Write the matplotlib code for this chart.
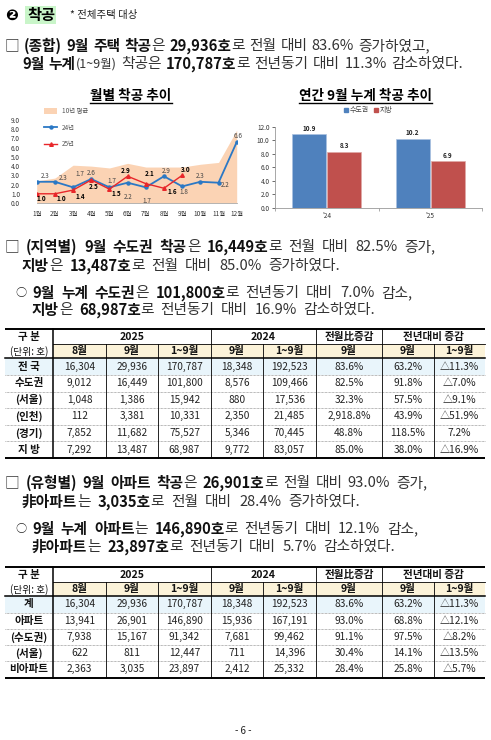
import matplotlib
matplotlib.use('Agg')
import matplotlib.pyplot as plt
from matplotlib.patches import Rectangle, Patch
from matplotlib.lines import Line2D

plt.rcParams['font.family'] = ['Noto Sans CJK KR', 'DejaVu Sans']

# ---------------- data ----------------
months = ['1월', '2월', '3월', '4월', '5월', '6월', '7월', '8월', '9월', '10월', '11월', '12월']
avg10 = [2.4, 2.7, 4.1, 4.0, 3.8, 4.3, 3.9, 3.9, 3.9, 4.2, 4.4, 7.9]
y24 = [2.3, 2.3, 1.7, 2.6, 1.7, 2.2, 1.7, 2.9, 1.8, 2.3, 2.2, 6.6]
y25 = [1.0, 1.0, 1.4, 2.5, 1.5, 2.9, 2.1, 1.6, 3.0]

years = ["'24", "'25"]
metro_cum = [10.9, 10.2]
local_cum = [8.3, 6.9]

hdr_row1 = ['구 분', '2025', '2024', '전월比증감', '전년대비 증감']
hdr_row2 = ['(단위: 호)', '8월', '9월', '1~9월', '9월', '1~9월', '9월', '9월', '1~9월']

t1_labels = ['전 국', '수도권', '(서울)', '(인천)', '(경기)', '지 방']
t1_aug25 = [16304, 9012, 1048, 112, 7852, 7292]
t1_sep25 = [29936, 16449, 1386, 3381, 11682, 13487]
t1_cum25 = [170787, 101800, 15942, 10331, 75527, 68987]
t1_sep24 = [18348, 8576, 880, 2350, 5346, 9772]
t1_cum24 = [192523, 109466, 17536, 21485, 70445, 83057]
t1_mom = [83.6, 82.5, 32.3, 2918.8, 48.8, 85.0]
t1_yoy_sep = [63.2, 91.8, 57.5, 43.9, 118.5, 38.0]
t1_yoy_cum = [-11.3, -7.0, -9.1, -51.9, 7.2, -16.9]

t2_labels = ['계', '아파트', '(수도권)', '(서울)', '비아파트']
t2_aug25 = [16304, 13941, 7938, 622, 2363]
t2_sep25 = [29936, 26901, 15167, 811, 3035]
t2_cum25 = [170787, 146890, 91342, 12447, 23897]
t2_sep24 = [18348, 15936, 7681, 711, 2412]
t2_cum24 = [192523, 167191, 99462, 14396, 25332]
t2_mom = [83.6, 93.0, 91.1, 30.4, 28.4]
t2_yoy_sep = [63.2, 68.8, 97.5, 14.1, 25.8]
t2_yoy_cum = [-11.3, -12.1, -8.2, -13.5, -5.7]

# ---------------- figure ----------------
W, H = 491, 740
fig = plt.figure(figsize=(W / 100, H / 100), dpi=100)
page = fig.add_axes([0, 0, 1, 1])
page.set_xlim(0, W)
page.set_ylim(H, 0)
page.axis('off')
R = fig.canvas.get_renderer()


def rich_line(x0, y, segs, x_end=None, size=10.6):
    pieces = []
    for text, kind in segs:
        parts = text.split(' ')
        for i, p in enumerate(parts):
            if i > 0:
                pieces.append(None)
            if p:
                if kind == 'b':
                    kw = dict(fontsize=size, color='#111111', fontweight='bold')
                elif kind == 's':
                    kw = dict(fontsize=size * 0.85, color='#333333')
                else:
                    kw = dict(fontsize=size, color='#333333')
                pieces.append(page.text(0, y, p, va='center', ha='left', **kw))
    widths = [t.get_window_extent(R).width if t is not None else None for t in pieces]
    sp = size * 0.3 * 1.389
    nsp = sum(1 for w in widths if w is None)
    nat = sum(w for w in widths if w is not None) + sp * nsp
    if x_end is not None and nsp:
        sp = max(sp * 0.5, sp + (x_end - x0 - nat) / nsp)
    x = x0
    for t, w in zip(pieces, widths):
        if t is None:
            x += sp
        else:
            t.set_x(x)
            x += w


# ---------------- heading ----------------
page.text(5, 15, '❷', fontsize=11, fontweight='bold', va='center', ha='left',
          family=['DejaVu Sans', 'Noto Sans CJK KR'])
page.add_patch(Rectangle((25, 6), 31, 18, fc='#c9f5c9', ec='none'))
page.text(27, 15, '착공', fontsize=11, fontweight='bold', va='center', ha='left')
page.text(70, 15, '* 전체주택 대상', fontsize=7.5, va='center', ha='left', color='#222222')

# ---------------- paragraphs ----------------
rich_line(5, 46, [('□ ', 'r'), ('(종합) 9월 주택 착공', 'b'), ('은 ', 'r'), ('29,936호', 'b'),
                  ('로 전월 대비 83.6% 증가하였고,', 'r')], 430)
rich_line(22, 64, [('9월 누계', 'b'), ('(1~9월)', 's'), (' 착공은 ', 'r'), ('170,787호', 'b'),
                   ('로 전년동기 대비 11.3% 감소하였다.', 'r')], 463)

rich_line(5, 247, [('□ ', 'r'), ('(지역별) 9월 수도권 착공', 'b'), ('은 ', 'r'), ('16,449호', 'b'),
                   ('로 전월 대비 82.5% 증가,', 'r')], 435)
rich_line(22, 266, [('지방', 'b'), ('은 ', 'r'), ('13,487호', 'b'),
                    ('로 전월 대비 85.0% 증가하였다.', 'r')], 340)
page.text(15, 293, '○', fontsize=8, va='center', ha='left', color='#222222')
rich_line(32, 293, [('9월 누계 수도권', 'b'), ('은 ', 'r'), ('101,800호', 'b'),
                    ('로 전년동기 대비 7.0% 감소,', 'r')], 412)
rich_line(32, 310, [('지방', 'b'), ('은 ', 'r'), ('68,987호', 'b'),
                    ('로 전년동기 대비 16.9% 감소하였다.', 'r')], 375)

rich_line(5, 483, [('□ ', 'r'), ('(유형별) 9월 아파트 착공', 'b'), ('은 ', 'r'), ('26,901호', 'b'),
                   ('로 전월 대비 93.0% 증가,', 'r')], 427)
rich_line(22, 502, [('非아파트', 'b'), ('는 ', 'r'), ('3,035호', 'b'),
                    ('로 전월 대비 28.4% 증가하였다.', 'r')], 360)
page.text(15, 529, '○', fontsize=8, va='center', ha='left', color='#222222')
rich_line(32, 529, [('9월 누계 아파트', 'b'), ('는 ', 'r'), ('146,890호', 'b'),
                    ('로 전년동기 대비 12.1% 감소,', 'r')], 418)
rich_line(32, 547, [('非아파트', 'b'), ('는 ', 'r'), ('23,897호', 'b'),
                    ('로 전년동기 대비 5.7% 감소하였다.', 'r')], 395)

page.text(243, 731, '- 6 -', fontsize=7, va='center', ha='center', color='#222222')


# ---------------- chart titles ----------------
def title_ul(xc, y, s):
    t = page.text(xc, y, s, fontsize=9.8, fontweight='bold', va='center', ha='center')
    bb = t.get_window_extent(R)
    page.plot([xc - bb.width / 2, xc + bb.width / 2], [y + 7, y + 7], color='k', lw=1.0)


title_ul(131, 96, '월별 착공 추이')
title_ul(366, 96, '연간 9월 누계 착공 추이')


def ax_rect(l, r, t, b):
    return [l / W, 1 - b / H, (r - l) / W, (b - t) / H]


# ---------------- left chart ----------------
PEACH = '#fbd3b4'
BLUE = '#2b78c5'
RED = '#e8262a'
ax1 = fig.add_axes(ax_rect(36.7, 236.7, 120, 203))
xs = list(range(len(months)))
ax1.fill_between(xs, 0, avg10, color=PEACH, lw=0, label='10년 평균')
ax1.plot(xs, y24, color=BLUE, lw=1.3, marker='o', ms=2.2, label='24년')
ax1.plot(xs[:len(y25)], y25, color=RED, lw=1.0, marker='^', ms=2.6, label='25년')
ax1.set_xlim(0, len(months) - 1)
ax1.set_ylim(0, 9)
ax1.set_yticks(range(0, 10))
ax1.set_yticklabels([f'{v:.1f}' for v in range(0, 10)])
ax1.set_xticks(xs)
ax1.set_xticklabels(months)
ax1.tick_params(axis='y', length=0, pad=12, labelsize=4.6, colors='#333333')
ax1.tick_params(axis='x', length=0, pad=5, labelsize=4.6, colors='#333333')
for s in ['left', 'right', 'top']:
    ax1.spines[s].set_visible(False)
ax1.spines['bottom'].set_color('#aaaaaa')
ax1.spines['bottom'].set_linewidth(0.6)
ax1.patch.set_alpha(0)

off24 = [(8, 6), (8.5, 4), (7, 13), (0, 6), (2, 6), (1, -14), (1.5, -14), (2, 5), (2, -6), (0, 6), (6.5, -2), (1, 6)]
off25 = [(5, -5), (6, -5), (7, -6), (2, -7), (6.5, -4), (-1.5, 5.5), (3.5, 10), (8, -3.5), (4, 5.5)]
for i, v in enumerate(y24):
    ax1.annotate(f'{v:.1f}', (i, v), xytext=off24[i], textcoords='offset pixels',
                 ha='center', va='center', fontsize=4.6, color='#444444')
for i, v in enumerate(y25):
    ax1.annotate(f'{v:.1f}', (i, v), xytext=off25[i], textcoords='offset pixels',
                 ha='center', va='center', fontsize=4.6, color='#000000', fontweight='bold')

h1 = [Patch(fc=PEACH, ec='none'),
      Line2D([], [], color=BLUE, lw=1.3, marker='o', ms=2.2),
      Line2D([], [], color=RED, lw=1.0, marker='^', ms=2.6)]
fig.legend(h1, ['10년 평균', '24년', '25년'], loc='upper left',
           bbox_to_anchor=(41 / W, 1 - 104 / H), frameon=False, fontsize=4.6,
           handlelength=2.0, handleheight=0.9, labelspacing=1.35, handletextpad=0.8,
           borderpad=0, labelcolor='#555555')

# ---------------- right chart ----------------
C_BLUE = '#4f81bd'
C_RED = '#c0504d'
ax2 = fig.add_axes(ax_rect(275, 482, 126.7, 207.7))
bx = list(range(len(years)))
bw = 0.33
b1 = ax2.bar([x - bw / 2 - 0.005 for x in bx], metro_cum, bw, color=C_BLUE, ec='#a9c1e0', lw=0.5)
b2 = ax2.bar([x + bw / 2 + 0.005 for x in bx], local_cum, bw, color=C_RED, ec='#e0a9a7', lw=0.5)
for bars, vals in ((b1, metro_cum), (b2, local_cum)):
    for rect, v in zip(bars, vals):
        ax2.annotate(f'{v:.1f}', (rect.get_x() + rect.get_width() / 2, v), xytext=(0, 6),
                     textcoords='offset pixels', ha='center', va='center',
                     fontsize=4.6, fontweight='bold', color='#222222')
ax2.set_xlim(-0.5, len(years) - 0.5)
ax2.set_ylim(0, 12)
ax2.set_yticks([0, 2, 4, 6, 8, 10, 12])
ax2.set_yticklabels([f'{v:.1f}' for v in [0, 2, 4, 6, 8, 10, 12]])
ax2.set_xticks(bx)
ax2.set_xticklabels(years)
ax2.set_xticks([-0.5, 0.5, 1.5], minor=True)
ax2.tick_params(axis='y', length=2, width=0.5, pad=2, labelsize=4.6, colors='#333333')
ax2.tick_params(axis='x', which='major', length=0, pad=3, labelsize=4.6, colors='#333333')
ax2.tick_params(axis='x', which='minor', length=2, width=0.5, color='#888888')
for s in ['right', 'top']:
    ax2.spines[s].set_visible(False)
for s in ['left', 'bottom']:
    ax2.spines[s].set_color('#999999')
    ax2.spines[s].set_linewidth(0.6)
ax2.patch.set_alpha(0)

h2 = [Line2D([], [], ls='none', marker='s', ms=2.5, color=C_BLUE),
      Line2D([], [], ls='none', marker='s', ms=2.5, color=C_RED)]
fig.legend(h2, ['수도권', '지방'], loc='center', bbox_to_anchor=(368 / W, 1 - 110 / H),
           ncol=2, frameon=False, fontsize=5, handlelength=0.6, handletextpad=0.2,
           columnspacing=0.8, borderpad=0, labelcolor='#444444')

# ---------------- tables ----------------
cols = [5, 53, 106, 158, 211, 263, 316, 382, 434, 485]
HDR_BG = '#fcf3d9'
HL_BG = '#e9f5fb'


def num(v):
    return f'{v:,}'


def pct(v):
    return f'△{abs(v):,.1f}%' if v < 0 else f'{v:,.1f}%'


def draw_table(top, hh, rh, labels, columns):
    n = len(labels)
    y1 = top + hh
    y2 = top + 2 * hh
    bottom = y2 + n * rh
    page.add_patch(Rectangle((cols[1], y1), cols[-1] - cols[1], hh, fc=HDR_BG, ec='none'))
    page.add_patch(Rectangle((cols[0], y2), cols[-1] - cols[0], rh, fc=HL_BG, ec='none'))
    page.plot([cols[0], cols[-1]], [top, top], color='k', lw=1.4, solid_capstyle='butt')
    page.plot([cols[1], cols[-1]], [y1, y1], color='k', lw=0.6)
    page.plot([cols[0], cols[-1]], [y2, y2], color='k', lw=1.1)
    for i in range(1, n):
        yy = y2 + i * rh
        page.plot([cols[0], cols[-1]], [yy, yy], color='#777777', lw=0.5, ls=(0, (1, 1)))
    page.plot([cols[0], cols[-1]], [bottom, bottom], color='k', lw=1.4, solid_capstyle='butt')
    for c in [cols[1], cols[4], cols[6], cols[7]]:
        page.plot([c, c], [top, bottom], color='k', lw=1.1 if c == cols[1] else 0.6)
    for c in [cols[2], cols[3], cols[5], cols[8]]:
        page.plot([c, c], [y1, bottom], color='k', lw=0.6)
    spans = [(0, 1), (1, 4), (4, 6), (6, 7), (7, 9)]
    for (a, b), s in zip(spans, hdr_row1):
        page.text((cols[a] + cols[b]) / 2, top + hh / 2 + 0.5, s, fontsize=7.6, fontweight='bold',
                  ha='center', va='center', color='#111111')
    for j, s in enumerate(hdr_row2):
        page.text((cols[j] + cols[j + 1]) / 2, y1 + hh / 2 + 0.5, s, fontsize=7.6 if j else 7.0,
                  fontweight='bold' if j else 'normal', ha='center', va='center', color='#111111')
    for i, lab in enumerate(labels):
        yc = y2 + (i + 0.5) * rh
        page.text((cols[0] + cols[1]) / 2, yc, lab, fontsize=7.6, fontweight='bold',
                  ha='center', va='center', color='#111111')
        for j, col in enumerate(columns):
            v = col[i]
            s = num(v) if j < 5 else pct(v)
            page.text((cols[j + 1] + cols[j + 2]) / 2, yc, s, fontsize=7.3,
                      ha='center', va='center', color='#222222')


draw_table(329, 14.65, 16.6, t1_labels,
           [t1_aug25, t1_sep25, t1_cum25, t1_sep24, t1_cum24, t1_mom, t1_yoy_sep, t1_yoy_cum])
draw_table(567, 14.65, 16.26, t2_labels,
           [t2_aug25, t2_sep25, t2_cum25, t2_sep24, t2_cum24, t2_mom, t2_yoy_sep, t2_yoy_cum])

fig.savefig('out.png', dpi=100)
